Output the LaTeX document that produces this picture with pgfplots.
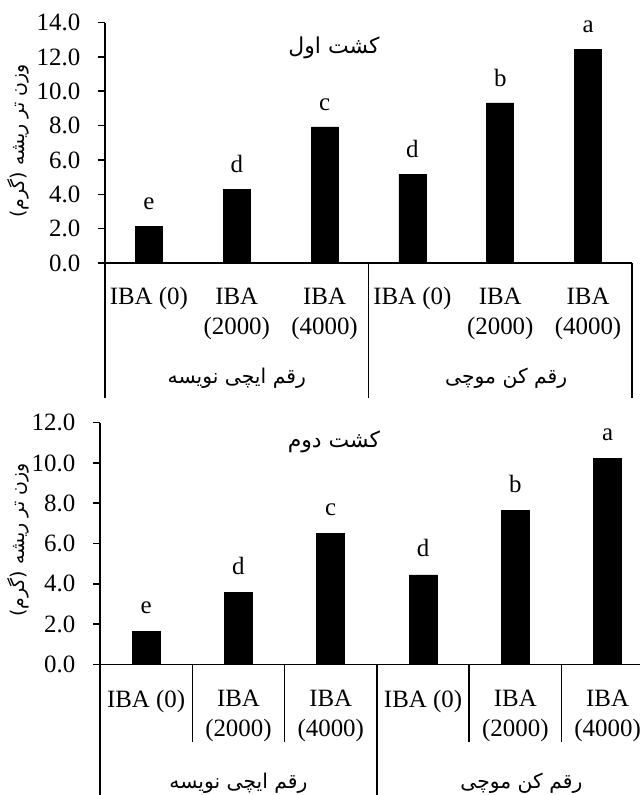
\documentclass[border=0pt]{standalone}
\usepackage{fontspec}
\setmainfont{Liberation Serif}
\newfontfamily\fa[Script=Arabic]{DejaVu Sans}
\TeXXeTstate=1
\usepackage{pgfplots}
\usepackage{pgfplotstable}
\pgfplotsset{compat=1.18}
\newcommand{\fatext}[2][11]{{\fa\fontsize{#1}{13}\selectfont\beginR #2\endR}}

\pgfplotstableread{
x y lab
0.5 2.12 e
1.5 4.26 d
2.5 7.92 c
3.5 5.17 d
4.5 9.32 b
5.5 12.43 a
}\kashtA

\pgfplotstableread{
x y lab
0.5 1.62 e
1.5 3.56 d
2.5 6.49 c
3.5 4.44 d
4.5 7.62 b
5.5 10.23 a
}\kashtB

\pgfplotsset{
  mystyle/.style={
    scale only axis, xmin=0, xmax=6, ymin=0,
    axis x line*=bottom, axis y line*=left,
    axis line style={line width=0.8bp, black},
    ybar, clip=false,
    xtick={0.5,1.5,2.5,3.5,4.5,5.5},
    xticklabels={IBA (0),{IBA\\(2000)},{IBA\\(4000)},IBA (0),{IBA\\(2000)},{IBA\\(4000)}},
    xticklabel style={align=center, anchor=north},
    x tick style={draw=none},
    y tick style={line width=0.8bp, black},
    tick align=outside, major tick length=3.5bp,
    /pgf/number format/assume math mode=true,
    yticklabel style={xshift=-4.5bp, /pgf/number format/.cd, fixed, fixed zerofill, precision=1},
    ytick distance=2,
  }
}

\begin{document}
\fontsize{12.5}{15}\selectfont
\begin{tikzpicture}
\useasboundingbox (0,0) rectangle (320bp,397.5bp);
\clip (0,0) rectangle (320bp,397.5bp);
% top panel
\begin{axis}[mystyle,
  at={(52.5bp,266bp)}, anchor=south west,
  width=263.5bp, height=120.2bp, ymax=14,
  xticklabel style={yshift=-4.5bp},
]
\addplot[ybar, bar width=13.5bp, fill=black, draw=black,
  nodes near coords, point meta=explicit symbolic,
  nodes near coords style={yshift=4bp, text=black}]
  table[x=x, y=y, meta=lab] {\kashtA};
\draw[line width=0.8bp] (axis cs:0,0) -- ++(0pt,-67.5bp);
\draw[line width=0.8bp] (axis cs:3,0) -- ++(0pt,-67.5bp);
\draw[line width=0.8bp] (axis cs:6,0) -- ++(0pt,-67.5bp);
\node at (axis cs:1.5,0) [yshift=-57.5bp] {\fatext[10.2]{رقم ایچی نویسه}};
\node at (axis cs:4.5,0) [yshift=-57.5bp, xshift=3bp] {\fatext[10.2]{رقم کن موچی}};
\end{axis}
\node at (167bp,373.5bp) {\fatext{کشت اول}};
\node[rotate=90] at (9bp,327bp) {\fatext[9.5]{وزن تر ریشه (گرم)}};
% bottom panel
\begin{axis}[mystyle,
  at={(50bp,65.35bp)}, anchor=south west,
  width=276.9bp, height=120.8bp, ymax=12,
  xticklabel style={yshift=-5bp},
]
\addplot[ybar, bar width=14bp, fill=black, draw=black,
  nodes near coords, point meta=explicit symbolic,
  nodes near coords style={yshift=4.5bp, text=black}]
  table[x=x, y=y, meta=lab] {\kashtB};
\draw[line width=0.8bp] (axis cs:0,0) -- ++(0pt,-66bp);
\draw[line width=0.8bp] (axis cs:3,0) -- ++(0pt,-66bp);
\draw[line width=0.8bp] (axis cs:6,0) -- ++(0pt,-66bp);
\foreach \k in {1,2,4,5} {
  \edef\tmp{\noexpand\draw[line width=0.8bp] (axis cs:\k,0) -- ++(0pt,-38.7bp);}\tmp
}
\node at (axis cs:1.5,0) [yshift=-59.4bp] {\fatext[10.2]{رقم ایچی نویسه}};
\node at (axis cs:4.5,0) [yshift=-59.4bp, xshift=3bp] {\fatext[10.2]{رقم کن موچی}};
\end{axis}
\node at (167bp,176.5bp) {\fatext{کشت دوم}};
\node[rotate=90] at (9bp,127.5bp) {\fatext[9.5]{وزن تر ریشه (گرم)}};
\end{tikzpicture}
\end{document}
